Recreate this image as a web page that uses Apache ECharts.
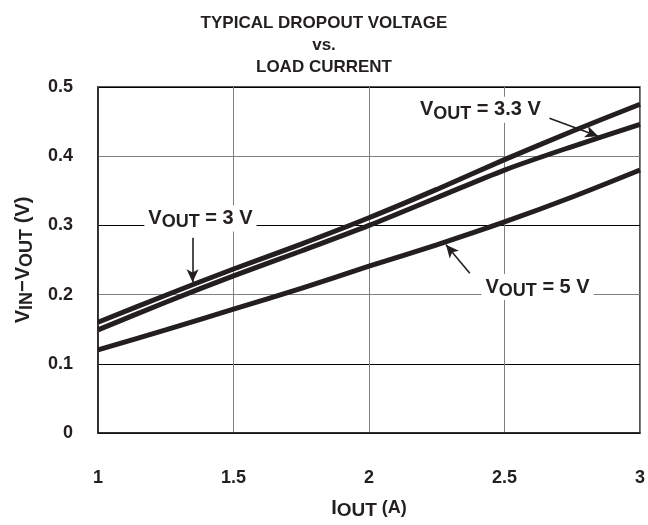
<!DOCTYPE html>
<html>
<head>
<meta charset="utf-8">
<script src="https://cdn.jsdelivr.net/npm/echarts@6/dist/echarts.min.js"></script>
<style>html,body{margin:0;padding:0;background:#fff;}#c{width:648px;height:525px;}</style>
</head>
<body>
<div id="c"></div>
<script>
var xValues = [1, 1.25, 1.5, 1.75, 2, 2.25, 2.5, 2.75, 3];
var vout3 = [0.160, 0.199, 0.237, 0.273, 0.311, 0.352, 0.395, 0.436, 0.475];
var vout33 = [0.149, 0.189, 0.227, 0.263, 0.300, 0.340, 0.380, 0.414, 0.446];
var vout5 = [0.120, 0.149, 0.179, 0.209, 0.241, 0.272, 0.305, 0.341, 0.380];
var xTicks = [1, 1.5, 2, 2.5, 3];
var yTicks = [0, 0.1, 0.2, 0.3, 0.4, 0.5];

var INK = '#231f20';
var FONT = 'Liberation Sans, Arial, sans-serif';

function pairs(ys) { return xValues.map(function (x, i) { return [x, ys[i]]; }); }

var richLbl = {
  v: { fontSize: 20, fontWeight: 'bold', color: INK, fontFamily: FONT, lineHeight: 26 },
  s: { fontSize: 18, fontWeight: 'bold', color: INK, fontFamily: FONT, lineHeight: 16, verticalAlign: 'bottom' },
  n: { fontSize: 20, fontWeight: 'bold', color: INK, fontFamily: FONT, lineHeight: 26 }
};

function lineSeries(name, ys, note) {
  return {
    name: name, type: 'line', data: pairs(ys), smooth: 0.3, showSymbol: false, symbol: 'none',
    lineStyle: { color: INK, width: 5 }, z: 3,
    markLine: {
      silent: true, symbol: ['none', 'arrow'], symbolSize: [9, 13],
      lineStyle: { color: INK, width: 1.6, type: 'solid' }, label: { show: false },
      data: [[{ coord: note.arrow[0] }, { coord: note.arrow[1] }]]
    },
    markPoint: {
      silent: true, symbol: 'rect', symbolSize: 0,
      data: [{ coord: note.at, label: {
        show: true, position: 'inside', formatter: note.text, rich: richLbl,
        backgroundColor: '#fff', padding: [0, 4, 0, 4]
      } }]
    }
  };
}

var chart = echarts.init(document.getElementById('c'), null, { renderer: 'canvas' });
chart.setOption({
  animation: false,
  backgroundColor: '#fff',
  title: {
    text: 'TYPICAL DROPOUT VOLTAGE\nvs.\nLOAD CURRENT', left: 'center', top: 7,
    textStyle: { fontSize: 17, fontWeight: 'bold', color: INK, fontFamily: FONT, lineHeight: 22 }
  },
  grid: { left: 98, right: 5, top: 87, bottom: 92, show: true, borderColor: INK, borderWidth: 1.5 },
  xAxis: {
    type: 'value', min: 1, max: 3, interval: 0.5,
    name: '{i|I}{s|OUT}{a| (A)}', nameLocation: 'middle', nameGap: 63,
    nameTextStyle: { rich: {
      i: { fontSize: 20, fontWeight: 'bold', color: INK, fontFamily: FONT, lineHeight: 24 },
      s: { fontSize: 19, fontWeight: 'bold', color: INK, fontFamily: FONT, lineHeight: 16, verticalAlign: 'bottom' },
      a: { fontSize: 18, fontWeight: 'bold', color: INK, fontFamily: FONT, lineHeight: 24 }
    } },
    axisLine: { show: true, lineStyle: { color: INK, width: 1.5 } },
    axisTick: { show: false },
    axisLabel: { fontSize: 18, fontWeight: 'bold', color: INK, fontFamily: FONT, margin: 36,
      formatter: function (v) { return String(v); } },
    splitLine: { show: true, lineStyle: { color: '#808080', width: 1 } }
  },
  yAxis: {
    type: 'value', min: 0, max: 0.5, interval: 0.1,
    name: '{v|V}{s|IN}{v|−V}{s|OUT}{v| (V)}', nameLocation: 'middle', nameGap: 62, nameRotate: 90,
    nameTextStyle: { rich: {
      v: { fontSize: 20, fontWeight: 'bold', color: INK, fontFamily: FONT, lineHeight: 26 },
      s: { fontSize: 18, fontWeight: 'bold', color: INK, fontFamily: FONT, lineHeight: 16, verticalAlign: 'bottom' }
    } },
    axisLine: { show: true, lineStyle: { color: INK, width: 1.5 } },
    axisTick: { show: false },
    axisLabel: { fontSize: 18, fontWeight: 'bold', color: INK, fontFamily: FONT, margin: 25,
      formatter: function (v) { return String(Math.round(v * 10) / 10); } },
    splitLine: { show: true, lineStyle: { color: ['#000', '#000', '#808080', '#000', '#808080', '#000'], width: 1 } }
  },
  series: [
    lineSeries('VOUT = 3 V', vout3, { at: [1.378, 0.31], text: '{v|V}{s|OUT}{n| = 3 V}', arrow: [[1.349, 0.282], [1.349, 0.218]] }),
    lineSeries('VOUT = 3.3 V', vout33, { at: [2.411, 0.467], text: '{v|V}{s|OUT}{n| = 3.3 V}', arrow: [[2.666, 0.455], [2.846, 0.429]] }),
    lineSeries('VOUT = 5 V', vout5, { at: [2.622, 0.211], text: '{v|V}{s|OUT}{n| = 5 V}', arrow: [[2.372, 0.231], [2.284, 0.272]] })
  ]
});
</script>
</body>
</html>
